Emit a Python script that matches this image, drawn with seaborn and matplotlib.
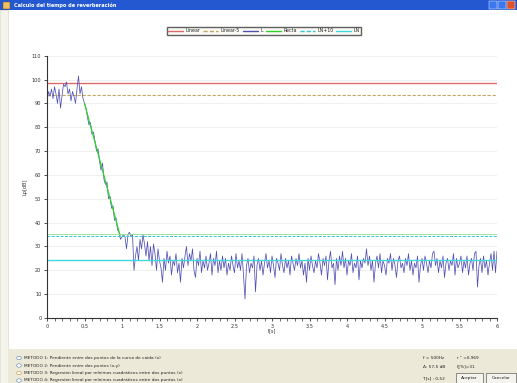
import numpy as np
import pandas as pd
import matplotlib
matplotlib.use('Agg')
import matplotlib.pyplot as plt
from matplotlib.patches import Rectangle, Circle
import seaborn as sns

# Levels, one sample every 0.02 s
t_step = 0.02
level_plateau = [91, 95, 93, 96, 92, 97, 94, 90, 96, 88,
                 93, 98, 97, 99, 94, 96, 91, 95, 93, 90,
                 96, 101.5, 94, 97, 92, 90]                      # 0.00 - 0.50
level_decay = [88, 84, 81, 82, 77, 78, 74, 70, 71, 66,
               62, 65, 58, 56, 57, 50, 51, 46, 47, 41,
               42, 37, 36, 33]                                  # 0.52 - 0.98
level_knee = [34, 35, 34, 29, 35, 36, 34, 35]                   # 1.00 - 1.14
level_floor = [20, 26, 30, 24, 33, 29, 35, 31, 26, 32,
               24, 30, 22, 31, 27, 20, 29, 24, 21, 15,
               25, 20, 28, 23, 26, 18, 24, 22, 27, 19,
               23, 15, 25, 21, 26, 30, 22, 27, 24, 29,
               20, 17, 25, 22, 28, 19, 24, 21, 26, 20,
               23, 27, 18, 25, 22, 28, 19, 24, 20, 26,
               21, 25, 18, 23, 20, 26, 22, 19, 27, 21,
               24, 20, 27, 18, 8, 22, 25, 19, 23, 21,
               26, 11, 22, 25, 20, 24, 18, 23, 27, 21,
               24, 19, 26, 22, 17, 25, 23, 20, 27, 22,
               19, 25, 21, 24, 18, 26, 23, 20, 25, 22,
               27, 21, 24, 18, 23, 15, 25, 20, 26, 22,
               19, 24, 21, 27, 23, 18, 25, 22, 26, 16,
               24, 28, 21, 23, 14, 25, 20, 26, 22, 28,
               21, 25, 18, 24, 22, 27, 19, 23, 21, 26,
               16, 24, 21, 25, 23, 29, 22, 26, 20, 24,
               15, 23, 26, 21, 27, 19, 24, 22, 18, 25,
               23, 27, 20, 25, 22, 17, 24, 26, 21, 23,
               19, 25, 22, 27, 20, 24, 18, 23, 21, 26,
               15, 22, 25, 20, 26, 23, 19, 24, 21, 27,
               28, 22, 25, 19, 24, 21, 26, 17, 23, 25,
               20, 24, 22, 27, 18, 25, 21, 23, 26, 19,
               24, 21, 26, 18, 23, 25, 20, 27, 28, 13,
               22, 25, 19, 26, 21, 24, 18, 23, 27, 20,
               28, 19, 28]                                      # 1.16 - 6.00

linear_db = 98.5
linear5_db = 93.5
recta_t = [0.50, 0.975]
recta_db = [90.0, 34.5]
recta_level = 35.2
ln10_db = 34.4
ln_db = 24.3

x_ticks = [0, 0.5, 1, 1.5, 2, 2.5, 3, 3.5, 4, 4.5, 5, 5.5, 6]
x_labels = ['0', '0,5', '1', '1,5', '2', '2,5', '3', '3,5', '4', '4,5', '5', '5,5', '6']
y_ticks = list(range(0, 111, 10))

levels = level_plateau + level_decay + level_knee + level_floor
df = pd.DataFrame({'t': np.round(np.arange(len(levels)) * t_step, 2), 'Lp': levels})

sns.set_theme(style="white")
plt.rcParams['font.family'] = ['DejaVu Sans']

fig = plt.figure(figsize=(5.17, 3.83), dpi=100)
fig.patch.set_facecolor('white')

# window chrome
fig.patches.append(Rectangle((0, 1 - 10 / 383), 1, 10 / 383, transform=fig.transFigure,
                             facecolor='#2458d0', edgecolor='none', zorder=0))
fig.text(14 / 517, 1 - 5.5 / 383, 'Calculo del tiempo de reverberación', color='white',
         fontsize=3.6, fontweight='bold', va='center')
fig.patches.append(Rectangle((3 / 517, 1 - 8.5 / 383), 7 / 517, 7 / 383, transform=fig.transFigure,
                             facecolor='#f0c060', edgecolor='#604010', lw=0.3))
for bx, bc in [(489, '#3a78f0'), (498, '#3a78f0'), (507, '#e0502a')]:
    fig.patches.append(Rectangle((bx / 517, 1 - 9 / 383), 8 / 517, 8 / 383, transform=fig.transFigure,
                                 facecolor=bc, edgecolor='white', lw=0.3))
fig.patches.append(Rectangle((0, 0), 8 / 517, 1 - 10 / 383, transform=fig.transFigure,
                             facecolor='#f4f3ec', edgecolor='#d8d4c0', lw=0.4, zorder=0))
fig.patches.append(Rectangle((8 / 517, 0), 1, 34 / 383, transform=fig.transFigure,
                             facecolor='#ece9d8', edgecolor='none', zorder=0))

metodos = ['METODO 1: Pendiente entre dos puntos de la curva de caida (x)',
           'METODO 2: Pendiente entre dos puntos (x,y)',
           'METODO 3: Regresión lineal por mínimos cuadráticos entre dos puntos (x)',
           'METODO 4: Regresión lineal por mínimos cuadráticos entre dos puntos (x)']
for i, txt in enumerate(metodos):
    yy = 1 - (358 + i * 7.5) / 383
    fig.patches.append(Circle((19 / 517, yy), 2.3 / 517, transform=fig.transFigure,
                              facecolor='white', edgecolor='#5a7ab0' if i != 2 else '#c09030', lw=0.4))
    fig.text(23.5 / 517, yy, txt, fontsize=3.1, va='center', color='#222222')
for x_px, y_px, txt in [(423, 358, 'f = 500Hz'), (457, 358, 'r ² =0,969'),
                        (423, 367, 'Δ: 57,5 dB'), (457, 367, 'ξ[%]=31'),
                        (423, 378, 'T[s] : 0,52')]:
    fig.text(x_px / 517, 1 - y_px / 383, txt, fontsize=3.1, va='center', color='#222222')
for x0, w, txt in [(456, 27, 'Aceptar'), (486, 30, 'Cancelar')]:
    fig.patches.append(Rectangle((x0 / 517, 0), w / 517, 10 / 383, transform=fig.transFigure,
                                 facecolor='#f4f3ee', edgecolor='#404040', lw=0.4))
    fig.text((x0 + w / 2) / 517, 5 / 383, txt, fontsize=3.1, ha='center', va='center', color='#222222')

# chart
ax = fig.add_axes([47 / 517, 1 - 318 / 383, 450 / 517, 262.3 / 383])
ax.set_facecolor('white')
for yv in y_ticks[1:]:
    ax.axhline(yv, color='#ececec', lw=0.6, zorder=0)

ax.axhline(linear_db, color='#e06a6a', lw=1.0, label='Linear')
ax.axhline(linear5_db, color='#c0a860', lw=0.8, ls=(0, (3, 1.5)), label='Linear-5')
sns.lineplot(data=df, x='t', y='Lp', ax=ax, color='#5050b4', lw=0.55, label='L')
ax.plot(recta_t, recta_db, color='#30d030', lw=0.9, label='Recta')
ax.axhline(recta_level, color='#8ee08e', lw=0.6)
ax.axhline(ln10_db, color='#30c8d8', lw=0.7, ls=(0, (3, 1.5)), label='LN+10')
ax.axhline(ln_db, color='#40d8e0', lw=1.0, label='LN')

ax.set_xlim(0, 6)
ax.set_ylim(0, 110)
ax.set_xticks(x_ticks)
ax.set_xticklabels(x_labels)
ax.set_xticks(np.arange(0, 6.01, 0.1), minor=True)
ax.set_yticks(y_ticks)
ax.tick_params(axis='both', which='major', labelsize=3.6, length=2.5, width=0.6,
               color='#333333', labelcolor='#333333', pad=1.5, bottom=True, left=True)
ax.tick_params(axis='x', which='minor', length=1.8, width=0.5, color='#333333', bottom=True)
for side in ['top', 'right']:
    ax.spines[side].set_visible(False)
for side in ['left', 'bottom']:
    ax.spines[side].set_color('#333333')
    ax.spines[side].set_linewidth(0.8)
ax.set_xlabel('t[s]', fontsize=3.6, labelpad=0, color='#333333')
ax.set_ylabel('Lp[dB]', fontsize=3.6, labelpad=3, color='#333333')

handles, labels = ax.get_legend_handles_labels()
if ax.get_legend():
    ax.get_legend().remove()
leg = fig.legend(handles, labels, loc='center', bbox_to_anchor=(264 / 517, 1 - 31 / 383), ncol=6,
                 fontsize=3.4, frameon=True, fancybox=False, edgecolor='#606060', facecolor='#fbfaf4',
                 handlelength=3.2, columnspacing=0.6, handletextpad=0.5, borderpad=0.3, framealpha=1)
for line in leg.get_lines():
    line.set_linewidth(1.0)

fig.savefig('out.png', dpi=100)
